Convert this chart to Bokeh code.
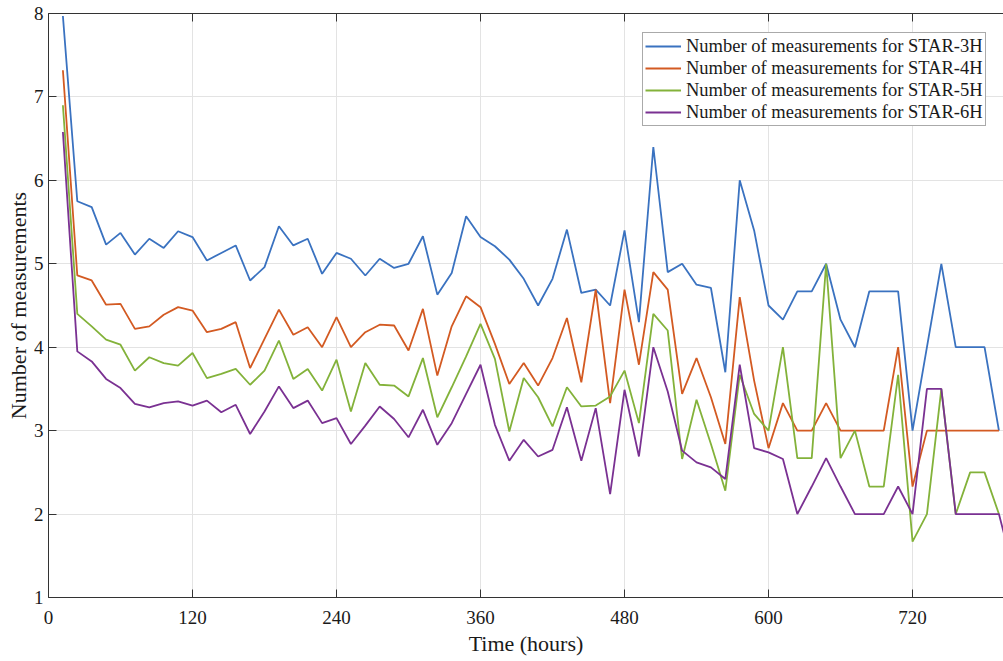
from bokeh.plotting import figure
from bokeh.models import Range1d, FixedTicker, LinearAxis, Legend, LegendItem, CustomJSTickFormatter
from bokeh.embed import file_html
from bokeh.resources import INLINE

hours = [12 * k for k in range(1, 67)]
hours_6h = [12 * k for k in range(1, 68)]

star3 = [7.97, 5.75, 5.68, 5.23, 5.37, 5.11, 5.30, 5.19, 5.39, 5.32,
         5.04, 5.13, 5.22, 4.80, 4.96, 5.45, 5.22, 5.30, 4.88, 5.13,
         5.06, 4.86, 5.06, 4.95, 5.00, 5.33, 4.63, 4.89, 5.57, 5.32,
         5.21, 5.05, 4.82, 4.50, 4.82, 5.41, 4.65, 4.69, 4.50, 5.40,
         4.30, 6.40, 4.90, 5.00, 4.75, 4.71, 3.70, 6.00, 5.40, 4.50,
         4.33, 4.67, 4.67, 5.00, 4.33, 4.00, 4.67, 4.67, 4.67, 3.00,
         4.00, 5.00, 4.00, 4.00, 4.00, 3.00]

star4 = [7.32, 4.86, 4.80, 4.51, 4.52, 4.22, 4.25, 4.39, 4.48, 4.44,
         4.18, 4.22, 4.30, 3.75, 4.10, 4.45, 4.15, 4.24, 4.00, 4.36,
         4.00, 4.18, 4.27, 4.26, 3.96, 4.46, 3.66, 4.25, 4.61, 4.48,
         4.04, 3.56, 3.81, 3.54, 3.87, 4.35, 3.58, 4.69, 3.33, 4.69,
         3.79, 4.90, 4.69, 3.44, 3.87, 3.40, 2.84, 4.60, 3.60, 2.79,
         3.33, 3.00, 3.00, 3.33, 3.00, 3.00, 3.00, 3.00, 4.00, 2.33,
         3.00, 3.00, 3.00, 3.00, 3.00, 3.00]

star5 = [6.90, 4.40, 4.25, 4.09, 4.03, 3.72, 3.88, 3.81, 3.78, 3.93,
         3.63, 3.68, 3.74, 3.55, 3.72, 4.08, 3.62, 3.74, 3.48, 3.85,
         3.23, 3.81, 3.55, 3.54, 3.41, 3.87, 3.16, 3.52, 3.89, 4.28,
         3.86, 2.99, 3.63, 3.40, 3.05, 3.52, 3.29, 3.30, 3.41, 3.72,
         3.09, 4.40, 4.20, 2.66, 3.37, 2.84, 2.28, 3.67, 3.20, 3.00,
         4.00, 2.67, 2.67, 5.00, 2.67, 3.00, 2.33, 2.33, 3.67, 1.67,
         2.00, 3.50, 2.00, 2.50, 2.50, 2.00]

star6 = [6.58, 3.95, 3.83, 3.62, 3.51, 3.32, 3.28, 3.33, 3.35, 3.30,
         3.36, 3.22, 3.31, 2.96, 3.23, 3.53, 3.27, 3.36, 3.09, 3.15,
         2.84, 3.06, 3.29, 3.14, 2.92, 3.25, 2.83, 3.09, 3.44, 3.79,
         3.07, 2.64, 2.89, 2.69, 2.77, 3.28, 2.64, 3.27, 2.24, 3.49,
         2.69, 4.00, 3.47, 2.76, 2.62, 2.56, 2.42, 3.79, 2.79, 2.74,
         2.66, 2.00, 2.33, 2.67, 2.33, 2.00, 2.00, 2.00, 2.33, 2.00,
         3.50, 3.50, 2.00, 2.00, 2.00, 2.00, 1.33]

labels = ["Number of measurements for STAR-3H",
          "Number of measurements for STAR-4H",
          "Number of measurements for STAR-5H",
          "Number of measurements for STAR-6H"]
colors = ["#3A72C0", "#D35A22", "#83B23A", "#7A3192"]

x_ticks = [0, 120, 240, 360, 480, 600, 720, 840]
y_ticks = [1, 2, 3, 4, 5, 6, 7, 8]

FONT = "Liberation Serif"
AX = "#333333"

p = figure(width=1003, height=661, output_backend="svg", toolbar_location=None,
           x_range=Range1d(0, 795.8), y_range=Range1d(1, 8),
           min_border_left=48, min_border_right=0, min_border_top=13,
           min_border_bottom=64, background_fill_color="white",
           border_fill_color="white")
p.outline_line_color = None

series = [(hours, star3), (hours, star4), (hours, star5), (hours_6h, star6)]
renderers = []
for (xs, ys), c in zip(series, colors):
    r = p.line(xs, ys, line_color=c, line_width=1.8)
    renderers.append(r)

p.xaxis.ticker = FixedTicker(ticks=x_ticks)
p.yaxis.ticker = FixedTicker(ticks=y_ticks)
for ax in (p.xaxis[0], p.yaxis[0]):
    ax.axis_line_color = AX
    ax.axis_line_width = 1
    ax.major_tick_line_color = AX
    ax.major_tick_in = 8
    ax.major_tick_out = 0
    ax.minor_tick_line_color = None
    ax.major_label_text_font = FONT
    ax.major_label_text_font_size = "19px"
    ax.major_label_text_color = "#1a1a1a"
    ax.axis_label_text_font = FONT
    ax.axis_label_text_font_size = "22px"
    ax.axis_label_text_font_style = "normal"
    ax.axis_label_text_color = "#1a1a1a"

p.xaxis.axis_label = "Time (hours)"
p.xaxis.major_label_standoff = 13
p.xaxis.axis_label_standoff = 4
p.yaxis.axis_label = "Number of measurements"
p.yaxis.major_label_standoff = 5
p.yaxis.axis_label_standoff = 0

top = LinearAxis(ticker=FixedTicker(ticks=x_ticks),
                 formatter=CustomJSTickFormatter(code="return ''"),
                 major_tick_in=8, major_tick_out=0, axis_line_color=AX,
                 major_tick_line_color=AX, minor_tick_line_color=None,
                 major_label_standoff=0)
p.add_layout(top, "above")

p.xgrid.ticker = FixedTicker(ticks=x_ticks)
p.ygrid.ticker = FixedTicker(ticks=y_ticks)
p.grid.grid_line_color = "#e3e3e3"
p.grid.grid_line_width = 1

legend = Legend(items=[LegendItem(label=l, renderers=[r]) for l, r in zip(labels, renderers)],
                location=(594, 471))
legend.label_text_font = FONT
legend.label_text_font_size = "18.5px"
legend.label_text_color = "#1a1a1a"
legend.label_height = 22
legend.glyph_height = 22
legend.glyph_width = 36
legend.label_standoff = 5
legend.spacing = 0
legend.padding = 2
legend.margin = 0
legend.border_line_color = "#555555"
legend.border_line_width = 1
legend.background_fill_color = "white"
legend.background_fill_alpha = 1
p.add_layout(legend, "center")

open("out.html", "w").write(file_html(p, INLINE))
